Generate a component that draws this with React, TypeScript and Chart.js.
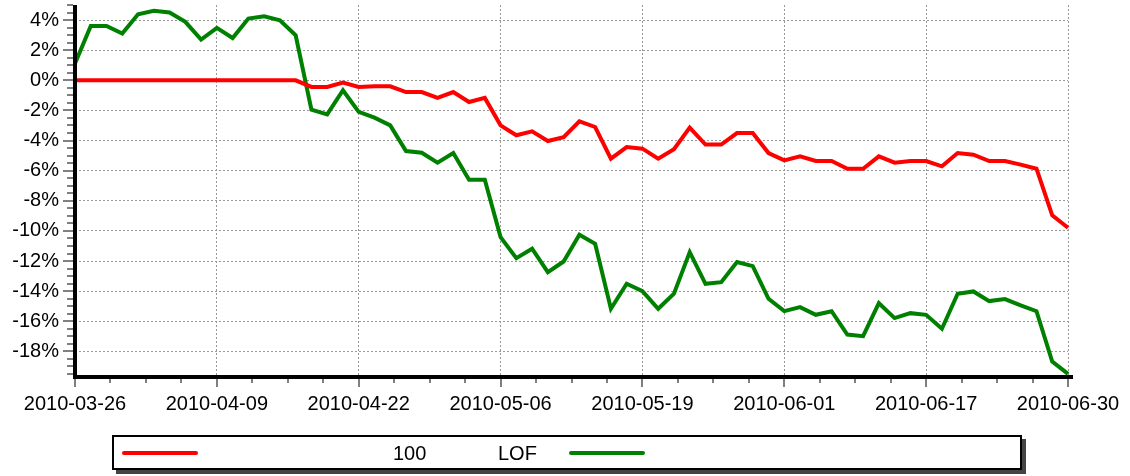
import React, { useEffect, useRef } from 'react';
import { Chart, registerables } from 'chart.js';

Chart.register(...registerables);

const dates = [
  '2010-03-26', '2010-03-29', '2010-03-30', '2010-03-31', '2010-04-01', '2010-04-02',
  '2010-04-06', '2010-04-07', '2010-04-08', '2010-04-09', '2010-04-12', '2010-04-13',
  '2010-04-14', '2010-04-15', '2010-04-16', '2010-04-19', '2010-04-20', '2010-04-21',
  '2010-04-22', '2010-04-23', '2010-04-26', '2010-04-27', '2010-04-28', '2010-04-29',
  '2010-04-30', '2010-05-04', '2010-05-05', '2010-05-06', '2010-05-07', '2010-05-10',
  '2010-05-11', '2010-05-12', '2010-05-13', '2010-05-14', '2010-05-17', '2010-05-18',
  '2010-05-19', '2010-05-20', '2010-05-21', '2010-05-24', '2010-05-25', '2010-05-26',
  '2010-05-27', '2010-05-28', '2010-05-31', '2010-06-01', '2010-06-02', '2010-06-03',
  '2010-06-04', '2010-06-07', '2010-06-08', '2010-06-09', '2010-06-10', '2010-06-11',
  '2010-06-17', '2010-06-18', '2010-06-21', '2010-06-22', '2010-06-23', '2010-06-24',
  '2010-06-25', '2010-06-28', '2010-06-29', '2010-06-30',
];

// percent values
const index100 = [
  0, 0, 0, 0, 0, 0, 0, 0, 0, 0,
  0, 0, 0, 0, 0, -0.44, -0.44, -0.15, -0.44, -0.40,
  -0.40, -0.78, -0.78, -1.17, -0.78, -1.44, -1.17, -2.99, -3.65, -3.39,
  -4.03, -3.77, -2.72, -3.10, -5.20, -4.43, -4.54, -5.20, -4.58, -3.14,
  -4.27, -4.27, -3.50, -3.50, -4.83, -5.32, -5.05, -5.36, -5.36, -5.87,
  -5.87, -5.05, -5.47, -5.36, -5.36, -5.71, -4.83, -4.94, -5.36, -5.36,
  -5.60, -5.87, -8.97, -9.79,
];

const lof = [
  1.11, 3.61, 3.61, 3.10, 4.39, 4.61, 4.50, 3.88, 2.70, 3.48,
  2.81, 4.10, 4.25, 3.99, 2.99, -1.95, -2.26, -0.66, -2.10, -2.48,
  -2.99, -4.70, -4.81, -5.47, -4.83, -6.60, -6.60, -10.41, -11.81, -11.18,
  -12.74, -12.03, -10.25, -10.85, -15.17, -13.51, -14.00, -15.17, -14.17, -11.41,
  -13.51, -13.40, -12.07, -12.34, -14.51, -15.33, -15.06, -15.57, -15.33, -16.88,
  -16.99, -14.80, -15.79, -15.46, -15.57, -16.50, -14.17, -14.02, -14.66, -14.53,
  -14.95, -15.33, -18.67, -19.49,
];

const seriesNames = ['100', 'LOF'];
const seriesColors = ['#ff0000', '#008000'];
const yTickValues = [-18, -16, -14, -12, -10, -8, -6, -4, -2, 0, 2, 4];
const yMin = -19.7;
const yMax = 5;
const labelEvery = 9;

const FONT = '"Liberation Sans", Arial, Helvetica, sans-serif';

const axesPlugin = {
  id: 'axesTicks',
  afterDatasetsDraw(chart: any) {
    const { ctx, chartArea, scales } = chart;
    const xs = scales.x;
    const ys = scales.y;
    const { left, right, top, bottom } = chartArea;
    ctx.save();
    // minor / major ticks
    ctx.strokeStyle = '#808080';
    ctx.lineWidth = 2;
    ctx.beginPath();
    for (let v = Math.ceil(ys.min * 2) / 2; v <= ys.max + 1e-9; v += 0.5) {
      const py = Math.round(ys.getPixelForValue(v));
      const major = Math.abs(v % 2) < 1e-9;
      ctx.moveTo(left - 2, py);
      ctx.lineTo(left - (major ? 12 : 8), py);
    }
    const n = dates.length - 1;
    for (let k = 0; k * labelEvery / 4 <= n + 1e-9; k++) {
      const px = Math.round(xs.getPixelForValue(k * labelEvery / 4));
      const major = k % 4 === 0;
      ctx.moveTo(px, bottom + 2);
      ctx.lineTo(px, bottom + (major ? 10 : 6));
    }
    ctx.stroke();
    // axis lines
    ctx.strokeStyle = '#000';
    ctx.lineWidth = 4;
    ctx.beginPath();
    ctx.moveTo(left, top);
    ctx.lineTo(left, bottom + 2);
    ctx.moveTo(left - 2, bottom);
    ctx.lineTo(right + 5, bottom);
    ctx.stroke();
    ctx.restore();
  },
};

export default function App() {
  const canvasRef = useRef<HTMLCanvasElement | null>(null);

  useEffect(() => {
    document.body.style.margin = '0';
    const canvas = canvasRef.current;
    if (!canvas) return;
    const chart = new Chart(canvas, {
      type: 'line',
      data: {
        labels: dates,
        datasets: [
          {
            label: seriesNames[0],
            data: index100,
            borderColor: seriesColors[0],
            backgroundColor: seriesColors[0],
            borderWidth: 4,
            pointRadius: 0,
            tension: 0,
          },
          {
            label: seriesNames[1],
            data: lof,
            borderColor: seriesColors[1],
            backgroundColor: seriesColors[1],
            borderWidth: 4,
            pointRadius: 0,
            tension: 0,
          },
        ],
      },
      options: {
        responsive: false,
        animation: false,
        layout: { padding: { top: 5, right: 62, left: 0, bottom: 0 } },
        plugins: {
          legend: { display: false },
          tooltip: { enabled: false },
        },
        scales: {
          x: {
            type: 'category',
            offset: false,
            afterBuildTicks: (scale: any) => {
              scale.ticks = scale.ticks.filter((t: any) => t.value % labelEvery === 0);
            },
            afterFit: (scale: any) => {
              scale.height = 99;
              scale.paddingLeft = 0;
              scale.paddingRight = 0;
              scale.paddingTop = 0;
              scale.paddingBottom = 0;
            },
            grid: {
              color: '#999',
              lineWidth: 1,
              drawTicks: false,
            },
            border: { display: false, dash: [2, 2] },
            ticks: {
              autoSkip: false,
              maxRotation: 0,
              minRotation: 0,
              padding: 15,
              color: '#000',
              font: { family: FONT, size: 20 },
            },
          },
          y: {
            type: 'linear',
            min: yMin,
            max: yMax,
            afterBuildTicks: (scale: any) => {
              scale.ticks = yTickValues.map((v) => ({ value: v }));
            },
            afterFit: (scale: any) => {
              scale.width = 75;
              scale.paddingLeft = 0;
              scale.paddingRight = 0;
              scale.paddingTop = 0;
              scale.paddingBottom = 0;
            },
            grid: {
              color: '#999',
              lineWidth: 1,
              drawTicks: false,
            },
            border: { display: false, dash: [2, 2] },
            ticks: {
              padding: 16,
              color: '#000',
              font: { family: FONT, size: 20 },
              callback: (v: any) => `${v}%`,
            },
          },
        },
      },
      plugins: [axesPlugin],
    });
    return () => chart.destroy();
  }, []);

  const textStyle: React.CSSProperties = {
    position: 'absolute',
    top: 443,
    fontFamily: FONT,
    fontSize: 20,
    lineHeight: '20px',
    color: '#000',
    whiteSpace: 'nowrap',
  };
  const lineStyle = (color: string, left: number): React.CSSProperties => ({
    position: 'absolute',
    left,
    top: 451,
    width: 76,
    height: 4,
    borderRadius: 2,
    background: color,
  });

  return (
    <div style={{ position: 'relative', width: 1130, height: 476, background: '#fff' }}>
      <canvas ref={canvasRef} width={1130} height={476} style={{ display: 'block' }} />
      <div
        style={{
          position: 'absolute',
          left: 112,
          top: 435,
          width: 906,
          height: 31,
          border: '2px solid #000',
          boxShadow: '4px 4px 0 #444',
          background: '#fff',
        }}
      />
      <div style={lineStyle(seriesColors[0], 122)} />
      <div style={{ ...textStyle, left: 393 }}>{seriesNames[0]}</div>
      <div style={{ ...textStyle, left: 498 }}>{seriesNames[1]}</div>
      <div style={lineStyle(seriesColors[1], 569)} />
    </div>
  );
}
